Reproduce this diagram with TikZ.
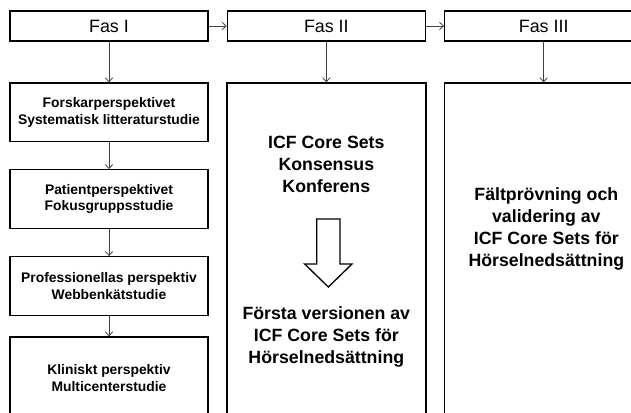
\documentclass[tikz,border=0pt]{standalone}
\usepackage{fontspec}
\setmainfont{Liberation Sans}
\usetikzlibrary{arrows.meta}
\definecolor{pilgra}{HTML}{404040}
\tikzstyle{fas} = [rectangle, minimum width=148.5pt, minimum height=22.5pt, inner sep=0pt, draw=black, line width=0.9pt, font=\fontsize{13.4}{16}\selectfont]
\tikzstyle{studie} = [rectangle, minimum width=148.5pt, minimum height=44pt, inner sep=0pt, align=center, draw=black, line width=1pt, font=\bfseries\fontsize{10.4}{12.5}\selectfont]
\tikzstyle{kolumn} = [rectangle, minimum width=149.25pt, minimum height=258pt, inner sep=0pt, draw=black, line width=1pt]
\tikzstyle{stortext} = [align=center, font=\bfseries\fontsize{13.3}{16.5}\selectfont]
\tikzstyle{arrow} = [line width=0.6pt, draw=pilgra, -{Straight Barb[length=3pt,width=5.5pt]}]
\begin{document}
\begin{tikzpicture}[node distance=65pt]
\useasboundingbox (0,0) rectangle (473.25pt,-309.75pt);
\clip (0,0) rectangle (473.25pt,-309.75pt);

\node (fas1) [fas] at (81.75pt,-19.5pt) {Fas I};
\node (fas2) [fas, right of=fas1, node distance=163pt] {Fas II};
\node (fas3) [fas, right of=fas2, node distance=163pt] {Fas III};

\node (forskar) [studie, below of=fas1, node distance=64.8pt] {Forskarperspektivet\\Systematisk litteraturstudie};
\node (patient) [studie, below of=forskar] {Patientperspektivet\\Fokusgruppsstudie};
\node (profess) [studie, below of=patient, node distance=65.25pt] {Professionellas perspektiv\\Webbenkätstudie};
\node (kliniskt) [studie, minimum height=61.5pt, below of=profess, node distance=69pt] {Kliniskt perspektiv\\Multicenterstudie};

\node (konsensus) [kolumn, below of=fas2, node distance=171.75pt] {};
\node (faltprov) [kolumn, below of=fas3, node distance=171.75pt] {};

\node (icf) [stortext, below of=fas2, node distance=103.9pt] {ICF Core Sets\\Konsensus\\Konferens};
\node (forsta) [stortext, below of=icf, node distance=129.35pt] {Första versionen av\\ICF Core Sets för\\Hörselnedsättning};
\node (validering) [stortext, below of=fas3, node distance=152.5pt, xshift=2pt] {Fältprövning och\\validering av\\ICF Core Sets för\\Hörselnedsättning};

% ihalig pil
\draw [line width=1pt] (237.5pt,-164.25pt) -- (255pt,-164.25pt) -- (255pt,-198pt) -- (264pt,-198pt) -- (246.25pt,-215.25pt) -- (228.5pt,-198pt) -- (237.5pt,-198pt) -- cycle;

\draw [arrow] (fas1) -- (fas2);
\draw [arrow] (fas2) -- (fas3);
\draw [arrow] (fas1) -- (forskar);
\draw [arrow] (forskar) -- (patient);
\draw [arrow] (patient) -- (profess);
\draw [arrow] (profess) -- (kliniskt);
\draw [arrow] (fas2) -- (konsensus);
\draw [arrow] (fas3) -- (faltprov);
\end{tikzpicture}
\end{document}
